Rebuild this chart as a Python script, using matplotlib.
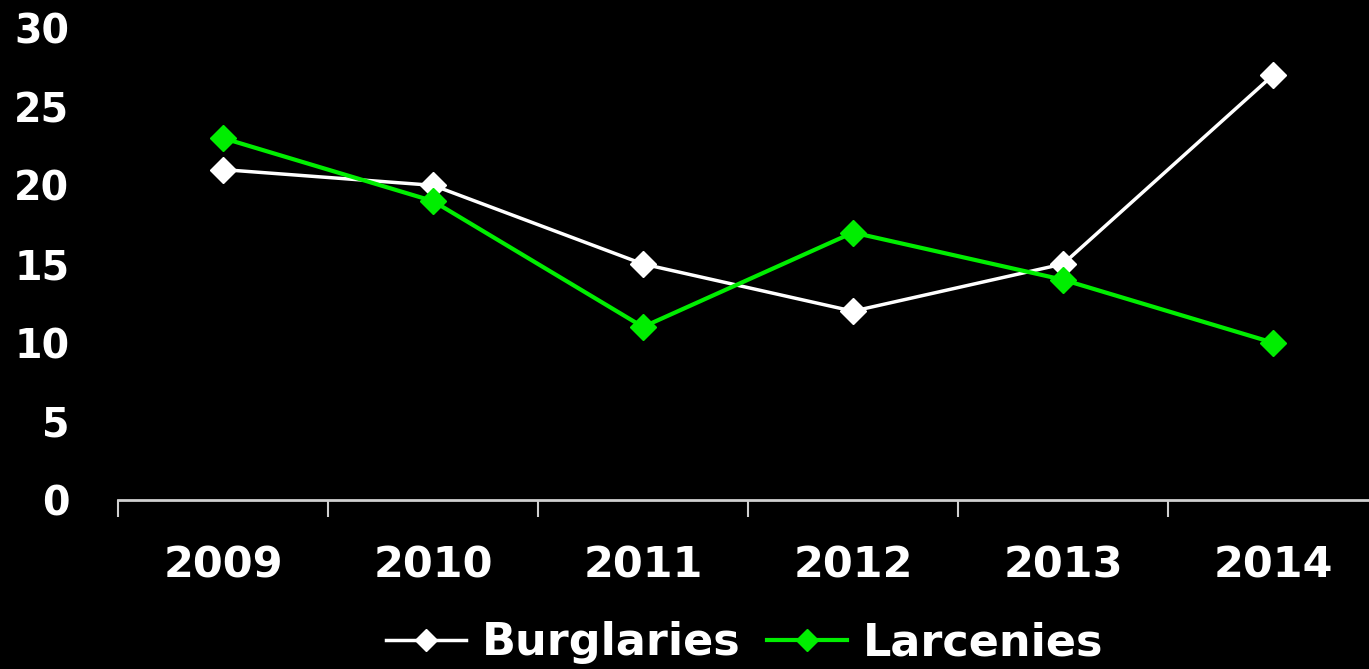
import matplotlib
matplotlib.use("Agg")
import matplotlib.pyplot as plt
import numpy as np

years = ["2009", "2010", "2011", "2012", "2013", "2014"]
burglaries = [21, 20, 15, 12, 15, 27]
larcenies = [23, 19, 11, 17, 14, 10]
y_ticks = [0, 5, 10, 15, 20, 25, 30]

plt.rcParams['font.family'] = ['DejaVu Sans']
plt.rcParams['font.weight'] = 'bold'

fig = plt.figure(figsize=(13.69, 6.69), dpi=100, facecolor='black')
W, H = 1369, 669
left, right, top, bottom = 118, 1378, 28, 500
ax = fig.add_axes([left / W, (H - bottom) / H, (right - left) / W, (bottom - top) / H])
ax.set_facecolor('black')

x = np.arange(len(years))
green = '#00ee00'
ax.plot(x, burglaries, color='white', lw=2.5, marker='D', ms=13,
        markerfacecolor='white', markeredgecolor='white', label='Burglaries', zorder=3)
ax.plot(x, larcenies, color=green, lw=3, marker='D', ms=13,
        markerfacecolor=green, markeredgecolor=green, label='Larcenies', zorder=3)

ax.set_xlim(-0.5, len(years) - 0.5)
ax.set_ylim(0, 30)

for s in ['top', 'right', 'left']:
    ax.spines[s].set_visible(False)
ax.spines['bottom'].set_color('#d0d0d0')
ax.spines['bottom'].set_linewidth(2)

ax.set_xticks(np.arange(len(years) + 1) - 0.5)
ax.set_xticklabels([])
ax.tick_params(axis='x', which='major', length=12, width=1.5, color='#d0d0d0', direction='out')
ax.set_xticks(x, minor=True)
ax.set_xticklabels(years, minor=True, fontsize=31, fontweight='bold', color='white')
ax.tick_params(axis='x', which='minor', length=0, pad=32)

ax.set_yticks(y_ticks)
ax.set_yticklabels([str(v) for v in y_ticks], fontsize=28.5, fontweight='bold', color='white')
ax.tick_params(axis='y', length=0, pad=35)

leg = fig.legend(loc='center', bbox_to_anchor=(745 / W, 1 - 643 / H), ncol=2, frameon=False,
                 prop={'size': 32, 'weight': 'bold'}, handlelength=1.8, handletextpad=0.35,
                 columnspacing=0.6, markerscale=0.85)
for t in leg.get_texts():
    t.set_color('white')

fig.savefig('out.png', dpi=100, facecolor='black')
